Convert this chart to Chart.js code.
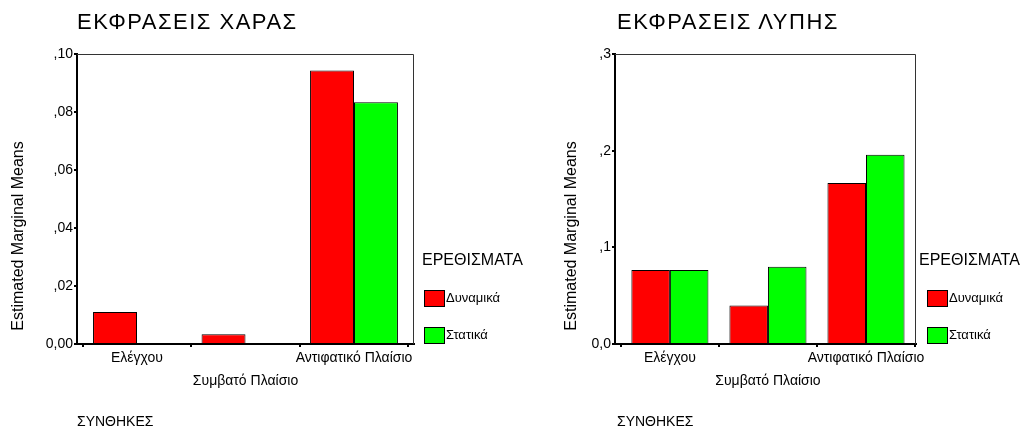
<!DOCTYPE html>
<html>
<head>
<meta charset="utf-8">
<script src="https://cdn.jsdelivr.net/npm/chart.js@4"></script>
<style>
body { margin: 0; background: #fff; font-family: "Liberation Sans", Arial, sans-serif; }
#wrap { position: relative; width: 1020px; height: 432px; overflow: hidden; }
canvas { position: absolute; top: 0; }
.txt { position: absolute; white-space: nowrap; color: #000; }
.title { font-size: 22px; line-height: 24px; letter-spacing: 1.5px; }
.foot { font-size: 14px; line-height: 16px; }
.ytitle { font-size: 16px; line-height: 20px; width: 240px; text-align: center; transform: rotate(-90deg); }
.leghead { font-size: 16px; line-height: 18px; }
.legitem { font-size: 13px; line-height: 16px; }
.box { position: absolute; width: 19px; height: 15px; border: 1px solid #000; }
</style>
</head>
<body>
<div id="wrap">
    <canvas id="joyChart" width="520" height="432" style="left:0;width:520px;height:432px"></canvas>
    <canvas id="sadChart" width="500" height="432" style="left:520px;width:500px;height:432px"></canvas>
</div>
<script>
// data
const categories = [['Ελέγχου'], ['', 'Συμβατό Πλαίσιο'], ['Αντιφατικό Πλαίσιο']];
const seriesNames = ['Δυναμικά', 'Στατικά'];
const seriesColors = ['#ff0000', '#00ff00'];

const joyDynamic = [0.011, 0.0034, 0.0943];
const joyStatic = [0, 0, 0.0834];
const joyTicks = ['0,00', ',02', ',04', ',06', ',08', ',10'];

const sadDynamic = [0.0766, 0.0399, 0.1666];
const sadStatic = [0.0766, 0.0800, 0.1958];
const sadTicks = ['0,0', ',1', ',2', ',3'];

const titles = ['ΕΚΦΡΑΣΕΙΣ ΧΑΡΑΣ', 'ΕΚΦΡΑΣΕΙΣ ΛΥΠΗΣ'];
const yTitle = 'Estimated Marginal Means';
const legendTitle = 'ΕΡΕΘΙΣΜΑΤΑ';
const footText = 'ΣΥΝΘΗΚΕΣ';

Chart.defaults.font.family = '"Liberation Sans", Arial, sans-serif';
Chart.defaults.color = '#000';
Chart.defaults.animation = false;

// top and right edges of the plot frame
const framePlugin = {
    id: 'frame',
    afterDatasetsDraw(chart) {
        const a = chart.chartArea;
        const c = chart.ctx;
        c.save();
        c.strokeStyle = '#333';
        c.lineWidth = 1;
        c.beginPath();
        c.moveTo(a.left, a.top + 0.5);
        c.lineTo(a.right - 0.5, a.top + 0.5);
        c.lineTo(a.right - 0.5, a.bottom);
        c.stroke();
        c.restore();
    }
};

// x is a linear index axis so the categories can sit off-centre like in SPSS
function makeChart(id, dyn, stat, max, step, tickLabels, yWidth, padRight, xMin, xMax, catPct) {
    const toPoints = arr => arr.map((v, i) => ({ x: i, y: v }));
    return new Chart(document.getElementById(id).getContext('2d'), {
        type: 'bar',
        data: {
            datasets: [
                { label: seriesNames[0], data: toPoints(dyn), backgroundColor: seriesColors[0], borderColor: '#000', borderWidth: 1 },
                { label: seriesNames[1], data: toPoints(stat), backgroundColor: seriesColors[1], borderColor: '#000', borderWidth: 1 }
            ]
        },
        options: {
            responsive: false,
            layout: { padding: { top: 54, right: padRight, bottom: 0, left: 0 } },
            datasets: { bar: { categoryPercentage: catPct, barPercentage: 1.0 } },
            plugins: { legend: { display: false }, tooltip: { enabled: false } },
            scales: {
                x: {
                    type: 'linear', min: xMin, max: xMax, offset: false,
                    grid: { drawOnChartArea: false, drawTicks: true, tickLength: 3, color: '#000', lineWidth: 2 },
                    border: { display: true, color: '#000', width: 2 },
                    ticks: { stepSize: 1, includeBounds: false, autoSkip: false, maxRotation: 0, minRotation: 0, padding: 0,
                             font: { size: 14, lineHeight: '23px' },
                             callback: v => categories[v] },
                    afterFit: s => { s.height = 88; }
                },
                y: {
                    min: 0, max: max,
                    grid: { drawOnChartArea: false, drawTicks: true, tickLength: 3, color: '#000', lineWidth: 2 },
                    border: { display: true, color: '#000', width: 2 },
                    ticks: { stepSize: step, padding: 1, font: { size: 14 },
                             callback: (v, i) => tickLabels[i] },
                    afterFit: s => { s.width = yWidth; }
                }
            }
        },
        plugins: [framePlugin]
    });
}

makeChart('joyChart', joyDynamic, joyStatic, 0.10, 0.02, joyTicks, 77, 106, -0.553, 2.553, 0.81);
makeChart('sadChart', sadDynamic, sadStatic, 0.3, 0.1, sadTicks, 95, 104, -0.56, 2.51, 0.786);

// texts and legends around the two plots
const wrap = document.getElementById('wrap');
function addText(cls, text, left, top) {
    const d = document.createElement('div');
    d.className = 'txt ' + cls;
    d.textContent = text;
    d.style.left = left + 'px';
    d.style.top = top + 'px';
    wrap.appendChild(d);
    return d;
}
function addBox(color, left, top) {
    const b = document.createElement('div');
    b.className = 'box';
    b.style.background = color;
    b.style.left = left + 'px';
    b.style.top = top + 'px';
    wrap.appendChild(b);
}

[[77, 18, 422, 424], [617, 571, 919, 927]].forEach((p, k) => {
    addText('title', titles[k], p[0], 10);
    addText('foot', footText, p[0], 413);
    addText('ytitle', yTitle, p[1] - 120, 226);
    addText('leghead', legendTitle, p[2], 251);
    seriesNames.forEach((name, i) => {
        const y = i === 0 ? 290 : 327;
        addBox(seriesColors[i], p[3], y);
        addText('legitem', name, p[3] + 22, y);
    });
});
</script>
</body>
</html>
